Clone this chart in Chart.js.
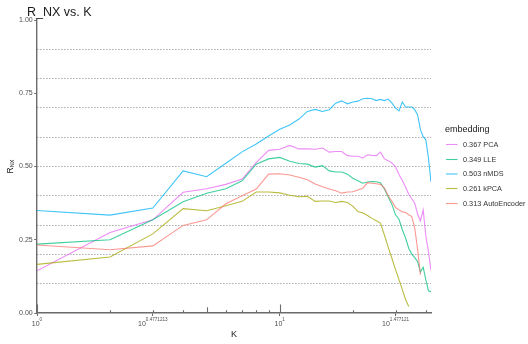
<!DOCTYPE html>
<html>
<head>
<meta charset="utf-8">
<script src="https://cdn.jsdelivr.net/npm/chart.js@4.4.1/dist/chart.umd.min.js"></script>
<style>
  html, body { margin: 0; padding: 0; background: #ffffff; }
  #wrap { width: 528px; height: 344px; }
</style>
</head>
<body>
<div id="wrap"><canvas id="c" width="528" height="344"></canvas></div>
<script>
// Neighbourhood size K
const K = [1, 2, 3, 4, 5, 6, 7, 8, 9, 10, 11, 12, 13, 14, 15, 16, 17, 18, 19, 20, 21,
           22, 23, 24, 25, 26, 27, 28, 29, 30, 31, 32, 33, 34, 35, 36, 37, 38, 39, 40, 41, 42];

// R_NX(K) per embedding (null = outside the 0..1 range, not drawn)
const rnxPCA = [0.144, 0.275, 0.318, 0.412, 0.424, 0.439, 0.457, 0.513, 0.555, 0.559, 0.572,
  0.560, 0.560, 0.559, 0.563, 0.549, 0.551, 0.551, 0.537, 0.535, 0.535, 0.529, 0.540, 0.538,
  0.537, 0.549, 0.526, 0.520, 0.512, 0.499, 0.473, 0.452, 0.430, 0.405, 0.390, 0.375, 0.337,
  0.315, 0.352, 0.262, 0.210, 0.145];
const rnxLLE = [0.235, 0.250, 0.318, 0.380, 0.409, 0.424, 0.451, 0.508, 0.526, 0.531, 0.518,
  0.510, 0.508, 0.498, 0.503, 0.485, 0.481, 0.481, 0.474, 0.460, 0.451, 0.443, 0.447, 0.449,
  0.448, 0.445, 0.423, 0.396, 0.370, 0.335, 0.320, 0.284, 0.256, 0.221, 0.201, 0.189, 0.175,
  0.140, 0.156, 0.113, 0.076, 0.073];
const rnxNMDS = [0.350, 0.334, 0.358, 0.485, 0.465, 0.511, 0.550, 0.577, 0.604, 0.627, 0.642,
  0.662, 0.688, 0.695, 0.688, 0.694, 0.716, 0.724, 0.714, 0.720, 0.723, 0.731, 0.733, 0.731,
  0.725, 0.729, 0.725, 0.730, 0.716, 0.699, 0.690, 0.720, 0.703, 0.703, 0.703, 0.694, 0.676,
  0.625, 0.602, 0.591, 0.529, 0.447];
const rnxKPCA = [0.166, 0.191, 0.270, 0.356, 0.349, 0.366, 0.381, 0.413, 0.413, 0.410, 0.402,
  0.397, 0.398, 0.381, 0.382, 0.382, 0.377, 0.381, 0.377, 0.365, 0.346, 0.341, 0.333, 0.323,
  0.315, 0.307, 0.266, 0.224, 0.186, 0.148, 0.114, 0.080, 0.046, 0.022, null, null, null,
  null, null, null, null, null];
const rnxAE = [0.232, 0.216, 0.229, 0.299, 0.318, 0.373, 0.400, 0.423, 0.474, 0.475, 0.471,
  0.463, 0.455, 0.440, 0.431, 0.423, 0.417, 0.409, 0.413, 0.414, 0.420, 0.426, 0.445, 0.443,
  0.441, 0.439, 0.426, 0.400, 0.381, 0.360, 0.352, 0.345, 0.343, 0.335, 0.329, 0.290, 0.216,
  0.130, null, null, null, null];

// Legend labels (AUC of each curve + method name)
const seriesLabels = ['0.367 PCA', '0.349 LLE', '0.503 nMDS', '0.261 kPCA', '0.313 AutoEncoder'];

// Axis ticks
const yLabelTicks = [0, 0.25, 0.5, 0.75, 1];
const yGridTicks = [0.1, 0.2, 0.3, 0.4, 0.5, 0.6, 0.7, 0.8, 0.9];
const xBreaks = [1, 3, 10, 30];
const xBreakExponents = ['0', '0.4771213', '1', '1.477121'];
const xLogTicks = [1, 2, 3, 4, 5, 6, 7, 8, 9, 10, 20, 30, 40];

const palette = {
  pca: 'rgba(231,107,243,0.78)',
  lle: 'rgba(0,191,125,0.75)',
  nmds: 'rgba(0,176,246,0.75)',
  kpca: 'rgba(163,165,0,0.75)',
  ae: 'rgba(248,118,109,0.75)'
};
const seriesColors = [palette.pca, palette.lle, palette.nmds, palette.kpca, palette.ae];
const seriesValues = [rnxPCA, rnxLLE, rnxNMDS, rnxKPCA, rnxAE];

const axisGray = '#6b6b6b';
const textGray = '#4d4d4d';
const FONT = '"Liberation Sans", Arial, sans-serif';

function points(vals) {
  return K.map((k, i) => ({ x: k, y: vals[i] }));
}

// ggplot draws factor levels alphabetically, the last one on top
const drawOrder = [4, 3, 1, 2, 0];
const datasets = seriesLabels.map((lab, i) => ({
  label: lab,
  data: points(seriesValues[i]),
  borderColor: seriesColors[i],
  borderWidth: 1.1,
  pointRadius: 0,
  tension: 0,
  fill: false,
  spanGaps: false,
  order: drawOrder[i]
}));

const near = (a, b) => Math.abs(a - b) < 1e-6;

// Text, log-tick rug and legend drawn on top of the chart
const overlay = {
  id: 'overlay',
  afterDraw(chart) {
    const c = chart.ctx;
    const xs = chart.scales.x;
    const area = chart.chartArea;
    c.save();

    // plot title
    c.fillStyle = '#1a1a1a';
    c.font = '12.5px ' + FONT;
    c.textAlign = 'left';
    c.textBaseline = 'alphabetic';
    c.fillText('R_NX vs. K', 27, 15.5);

    // log ticks along the bottom of the panel
    c.strokeStyle = axisGray;
    c.lineWidth = 1.1;
    xLogTicks.forEach(v => {
      const px = Math.round(xs.getPixelForValue(v)) + 0.5;
      const m = Math.log10(v) % 1;
      let len = 2.8;
      if (near(m, 0)) len = 8.5;
      else if (near(v, 5) || near(v, 50)) len = 5.7;
      c.beginPath();
      c.moveTo(px, area.bottom);
      c.lineTo(px, area.bottom - len);
      c.stroke();
    });

    // x tick labels: 10 with a superscript exponent
    c.fillStyle = textGray;
    xBreaks.forEach((v, i) => {
      const px = xs.getPixelForValue(v);
      c.font = '7px ' + FONT;
      const wb = c.measureText('10').width;
      c.font = '4.6px ' + FONT;
      const we = c.measureText(xBreakExponents[i]).width;
      const x0 = px - (wb + we) / 2;
      c.font = '7px ' + FONT;
      c.fillText('10', x0, 325.5);
      c.font = '4.6px ' + FONT;
      c.fillText(xBreakExponents[i], x0 + wb, 320.5);
    });

    // x axis title
    c.fillStyle = '#1a1a1a';
    c.font = '9px ' + FONT;
    c.textAlign = 'center';
    c.fillText('K', (area.left + area.right) / 2, 336.5);

    // y axis title R with subscript NX
    c.save();
    c.translate(13, (area.top + area.bottom) / 2);
    c.rotate(-Math.PI / 2);
    c.textAlign = 'left';
    c.font = '8.5px ' + FONT;
    const wR = c.measureText('R').width;
    c.font = '5.5px ' + FONT;
    const wNX = c.measureText('NX').width;
    const s = -(wR + wNX) / 2;
    c.font = '8.5px ' + FONT;
    c.fillText('R', s, 0);
    c.font = '5.5px ' + FONT;
    c.fillText('NX', s + wR, 1.3);
    c.restore();

    // legend
    c.textAlign = 'left';
    c.fillStyle = '#1a1a1a';
    c.font = '9px ' + FONT;
    c.fillText('embedding', 445, 132);
    const rows = [144.5, 159.5, 174, 188.5, 203.5];
    seriesLabels.forEach((lab, i) => {
      c.strokeStyle = seriesColors[i];
      c.lineWidth = 1.1;
      c.beginPath();
      c.moveTo(446, rows[i]);
      c.lineTo(457.5, rows[i]);
      c.stroke();
      c.fillStyle = '#333333';
      c.font = '7.3px ' + FONT;
      c.textBaseline = 'middle';
      c.fillText(lab, 463, rows[i] + 0.3);
      c.textBaseline = 'alphabetic';
    });

    c.restore();
  }
};

new Chart(document.getElementById('c'), {
  type: 'line',
  data: { datasets },
  plugins: [overlay],
  options: {
    responsive: false,
    animation: false,
    devicePixelRatio: 1,
    layout: { padding: { top: 20, right: 97, left: 0, bottom: 0 } },
    plugins: {
      legend: { display: false },
      title: { display: false },
      tooltip: { enabled: false }
    },
    scales: {
      x: {
        type: 'logarithmic',
        min: 1,
        max: 42,
        afterBuildTicks: s => { s.ticks = xBreaks.map(v => ({ value: v })); },
        afterFit: s => { s.height = 31; },
        ticks: { display: false, autoSkip: false },
        grid: {
          drawOnChartArea: false,
          tickLength: 3,
          tickWidth: 1.1,
          tickColor: axisGray
        },
        border: { color: axisGray, width: 1.4 }
      },
      y: {
        min: 0,
        max: 1,
        afterBuildTicks: s => {
          const vals = yLabelTicks.concat(yGridTicks.filter(v => !yLabelTicks.some(t => near(t, v))))
            .sort((a, b) => a - b);
          s.ticks = vals.map(v => ({ value: v }));
        },
        afterFit: s => { s.width = 37; },
        ticks: {
          autoSkip: false,
          padding: 1.5,
          color: textGray,
          font: { family: FONT, size: 7 },
          callback: v => (yLabelTicks.some(t => near(t, v)) ? v.toFixed(2) : '')
        },
        grid: {
          lineWidth: 1,
          color: ctx => {
            const v = ctx.tick ? ctx.tick.value : 0;
            return yGridTicks.some(t => near(t, v)) ? 'rgba(120,120,120,0.9)' : 'rgba(0,0,0,0)';
          },
          tickLength: 2.8,
          tickWidth: 1.1,
          tickColor: ctx => {
            const v = ctx.tick ? ctx.tick.value : 0;
            return yLabelTicks.some(t => near(t, v)) ? axisGray : 'rgba(0,0,0,0)';
          }
        },
        border: { color: axisGray, width: 1.4, dash: [1, 2] }
      }
    }
  }
});
</script>
</body>
</html>
